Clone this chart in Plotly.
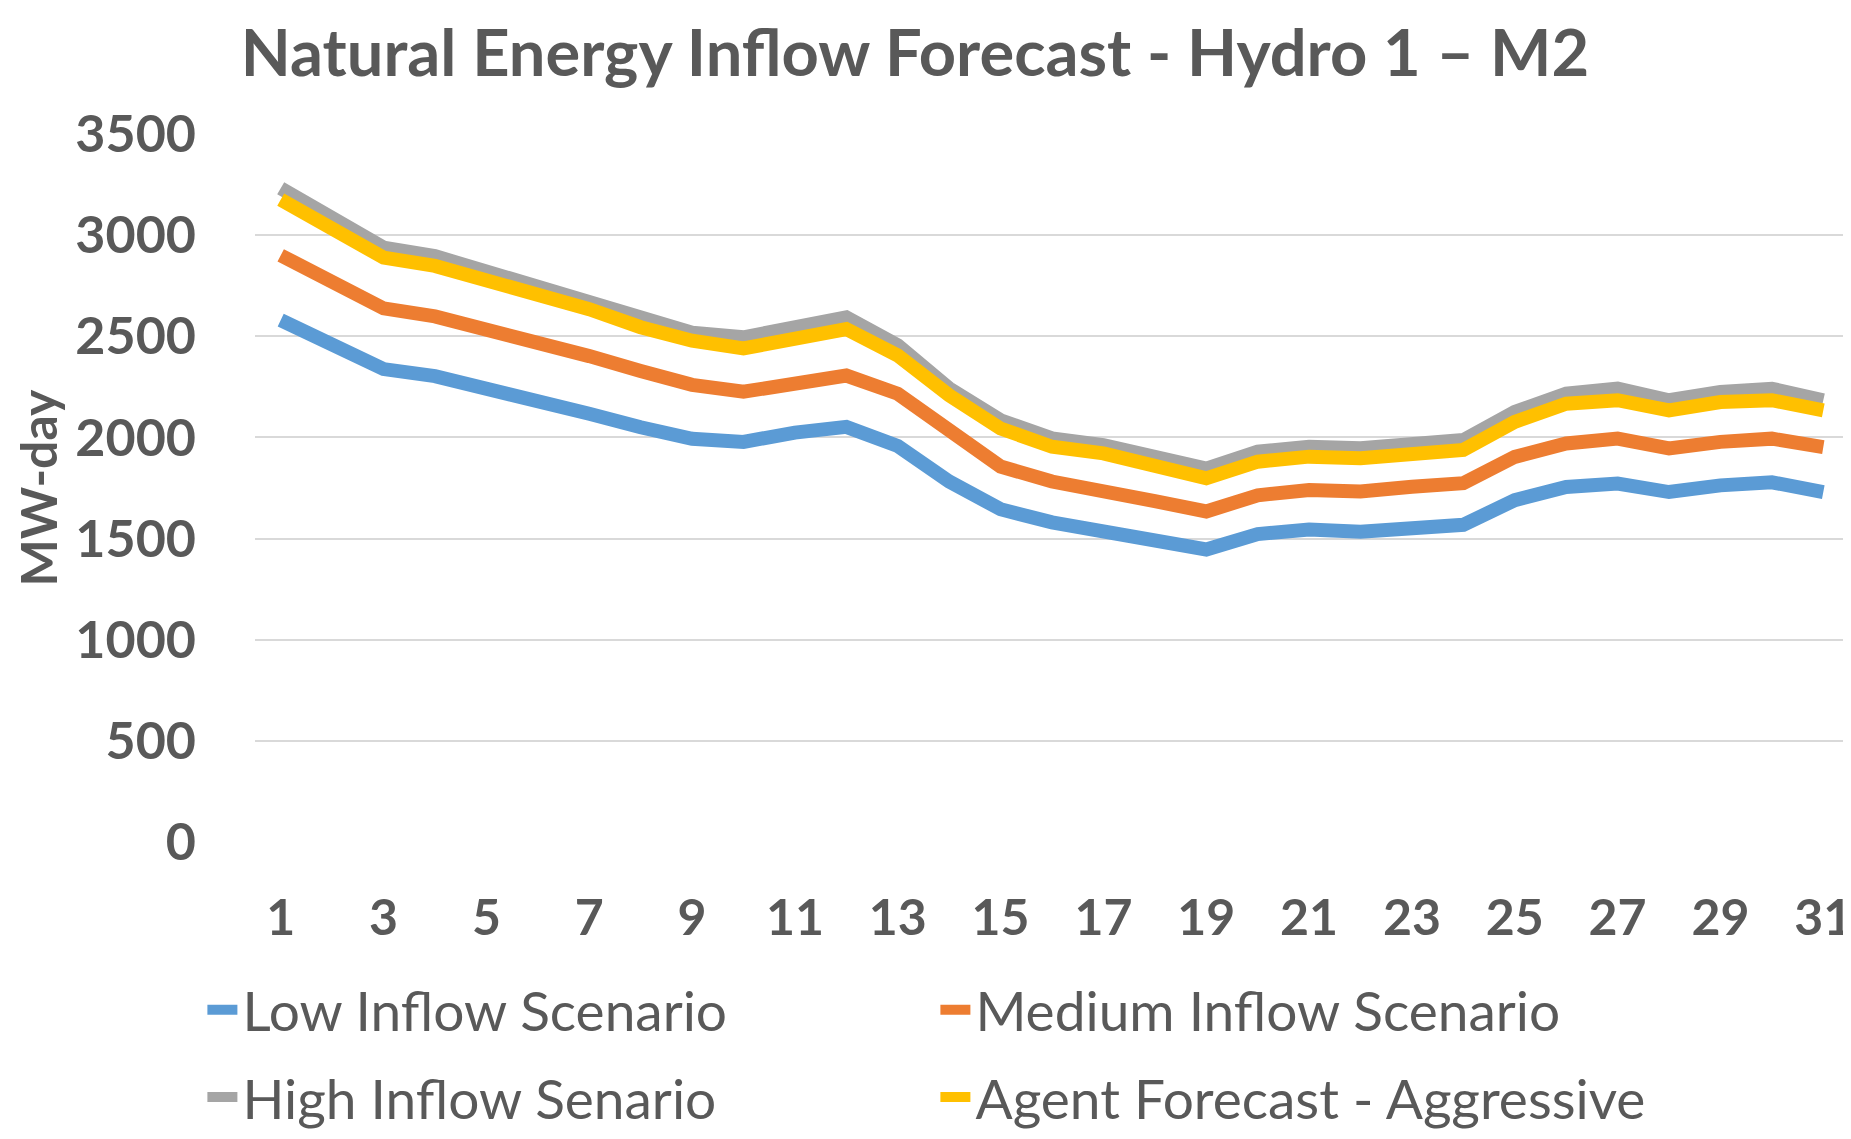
import plotly.graph_objects as go

days = list(range(1, 32))
low = [2580, 2455, 2338, 2303, 2246, 2190, 2117, 2050, 1993, 1978, 2024, 2052, 1958, 1782, 1645, 1580, 1538, 1495, 1446, 1522, 1545, 1534, 1553, 1568, 1690, 1755, 1772, 1730, 1763, 1778, 1730]
medium = [2900, 2768, 2638, 2598, 2533, 2483, 2402, 2328, 2260, 2226, 2274, 2306, 2216, 2028, 1856, 1782, 1741, 1685, 1634, 1714, 1740, 1733, 1756, 1774, 1904, 1970, 1994, 1946, 1978, 1994, 1952]
high = [3232, 3080, 2938, 2896, 2820, 2750, 2668, 2585, 2518, 2495, 2552, 2593, 2455, 2242, 2085, 1995, 1962, 1905, 1846, 1930, 1954, 1946, 1970, 1987, 2126, 2216, 2241, 2184, 2225, 2241, 2184]
agent = [3176, 3028, 2889, 2848, 2774, 2716, 2634, 2545, 2478, 2440, 2490, 2536, 2405, 2208, 2044, 1954, 1921, 1864, 1798, 1880, 1905, 1897, 1921, 1938, 2077, 2167, 2184, 2134, 2175, 2184, 2134]

names = ["Low Inflow Scenario", "Medium Inflow Scenario", "High Inflow Senario", "Agent Forecast - Aggressive"]
colors = ["#5B9BD5", "#ED7D31", "#A5A5A5", "#FFC000"]
legends = ["legend", "legend", "legend2", "legend2"]
x_ticks = list(range(1, 32, 2))
y_ticks = list(range(0, 3501, 500))

TXT = "#595959"
FONT = "Lato"

fig = go.Figure()
for name, vals, col, lg in zip(names, [low, medium, high, agent], colors, legends):
    fig.add_trace(go.Scatter(x=days, y=vals, mode="lines", name=name,
                             line=dict(color=col, width=14, shape="linear"),
                             legend=lg))

W, H = 1851, 1139
L, R, T, B = 247, 7, 126, 292
ph = H - T - B

def ypaper(px):
    return (H - B - px) / ph

legend_common = dict(orientation="h", x=-0.033, xanchor="left", yanchor="middle",
                     entrywidth=688, entrywidthmode="pixels",
                     font=dict(size=55, color=TXT, family=FONT),
                     bgcolor="rgba(0,0,0,0)", itemwidth=30)

fig.update_layout(
    width=W, height=H,
    margin=dict(l=L, r=R, t=T, b=B),
    paper_bgcolor="white", plot_bgcolor="white",
    font=dict(family=FONT, color=TXT),
    title=dict(text="<b>Natural Energy Inflow Forecast - Hydro 1 – M2</b>",
               x=0.490, xanchor="center", y=1 - 45 / H, yanchor="middle",
               font=dict(size=65, color=TXT, family=FONT)),
    xaxis=dict(range=[0.5, 31.5], tickmode="array", tickvals=x_ticks,
               ticktext=[f"<b>{v}</b>" for v in x_ticks],
               showgrid=False, zeroline=False, showline=False,
               ticks="", ticklabelstandoff=42,
               tickfont=dict(size=50, color=TXT, family=FONT)),
    yaxis=dict(range=[0, 3500], tickmode="array", tickvals=y_ticks,
               ticktext=[f"<b>{v}</b>" for v in y_ticks],
               showgrid=True, gridcolor="#D9D9D9", gridwidth=2,
               zeroline=False, showline=False, ticks="", ticklabelstandoff=58,
               tickfont=dict(size=52, color=TXT, family=FONT),
               title=dict(text="<b>MW-day</b>", standoff=12,
                          font=dict(size=50, color=TXT, family=FONT))),
    legend=dict(y=ypaper(1018), **legend_common),
    legend2=dict(y=ypaper(1107), **legend_common),
)

fig.write_html("out.html")
